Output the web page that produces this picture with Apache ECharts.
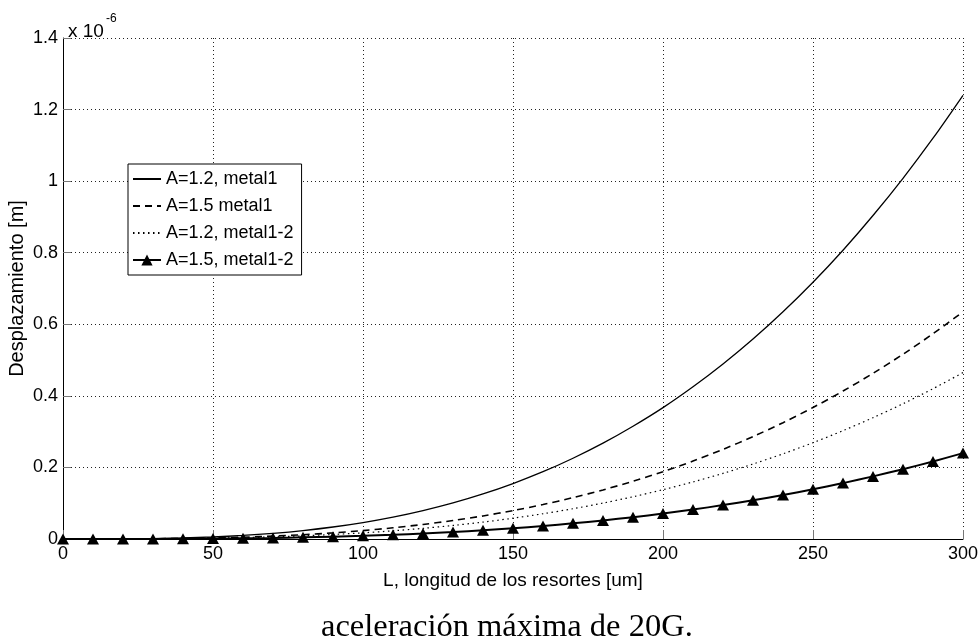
<!DOCTYPE html>
<html><head><meta charset="utf-8">
<script src="https://cdn.jsdelivr.net/npm/echarts@6/dist/echarts.min.js"></script>
<style>html,body{margin:0;padding:0;background:#fff}#c{width:980px;height:642px}</style>
</head><body><div id="c"></div>
<script>
// L, longitud de los resortes [um]
const L = [0,10,20,30,40,50,60,70,80,90,100,110,120,130,140,150,160,170,180,190,200,210,220,230,240,250,260,270,280,290,300];
// Desplazamiento in units of 1e-6 m
const a12_metal1 = [0,0.00005,0.0004,0.0012,0.0029,0.0057,0.0099,0.0158,0.0235,0.0335,0.0459,0.0611,0.0794,0.1009,0.126,0.155,0.188,0.2257,0.2678,0.315,0.367,0.4253,0.489,0.5587,0.635,0.7176,0.807,0.904,1.008,1.12,1.24];
const a15_metal1 = [0,0.00002,0.0002,0.0006,0.0015,0.0029,0.0051,0.0081,0.012,0.0171,0.0235,0.0313,0.0406,0.0517,0.0645,0.0794,0.0963,0.1156,0.1372,0.1613,0.1881,0.2178,0.2504,0.2861,0.3251,0.3675,0.4134,0.4629,0.5163,0.5736,0.635];
const a12_metal12 = [0,0.00002,0.00014,0.0005,0.0011,0.0022,0.0037,0.0059,0.0088,0.0126,0.0172,0.0229,0.0298,0.0379,0.0472,0.0581,0.0705,0.0846,0.1004,0.1181,0.1378,0.1595,0.1834,0.2095,0.2381,0.2691,0.3027,0.339,0.378,0.42,0.465];
const a15_metal12 = [0,0.00001,0.00007,0.00024,0.0006,0.0011,0.0019,0.003,0.0046,0.0065,0.0089,0.0118,0.0154,0.0195,0.0244,0.03,0.0364,0.0437,0.0518,0.061,0.0711,0.0823,0.0947,0.1081,0.1229,0.1389,0.1562,0.175,0.1951,0.2168,0.24];
const seriesNames = ['A=1.2, metal1','A=1.5 metal1','A=1.2, metal1-2','A=1.5, metal1-2'];
const xTicks = [0,50,100,150,200,250,300];
const yTicks = [0,0.2,0.4,0.6,0.8,1,1.2,1.4];

const FONT = 'Liberation Sans';
const pairs = arr => L.map((x,i)=>[x, arr[i]]);
const gridDots = {type:[1,3], color:'#222', width:1};
const chart = echarts.init(document.getElementById('c'));
chart.setOption({
  backgroundColor:'#fff',
  animation:false,
  title:[
    {text:'x 10', left:63, top:17, textStyle:{fontSize:19, fontWeight:'normal', fontFamily:FONT, color:'#000'}},
    {text:'-6', left:101, top:8, textStyle:{fontSize:12, fontWeight:'normal', fontFamily:FONT, color:'#000'}},
    {text:'aceleración máxima de 20G.', left:316, top:606, textStyle:{fontSize:32.5, fontWeight:'normal', fontFamily:'Liberation Serif', color:'#000'}}
  ],
  grid:{left:63, right:17, top:38, bottom:103, containLabel:false, outerBoundsMode:'none'},
  legend:{
    orient:'vertical', left:128, top:164,
    backgroundColor:'#fff', borderColor:'#000', borderWidth:1,
    padding:[6,8,6,4], itemGap:9, itemWidth:28, itemHeight:14,
    textStyle:{fontSize:18, fontFamily:FONT, color:'#000', lineHeight:18},
    data:[
      {name:seriesNames[0], itemStyle:{opacity:0}},
      {name:seriesNames[1], itemStyle:{opacity:0}},
      {name:seriesNames[2], itemStyle:{opacity:0}},
      {name:seriesNames[3]}
    ]
  },
  xAxis:{
    type:'value', min:xTicks[0], max:xTicks[xTicks.length-1], interval:50,
    name:'L, longitud de los resortes [um]', nameLocation:'middle', nameGap:32, nameMoveOverlap:false,
    nameTextStyle:{fontSize:19, fontFamily:FONT, color:'#000'},
    axisLine:{lineStyle:{color:'#000', width:1}},
    axisTick:{inside:true, length:9, lineStyle:{color:'#777'}},
    axisLabel:{fontSize:18, fontFamily:FONT, color:'#000', margin:6},
    splitLine:{show:true, lineStyle:gridDots}
  },
  yAxis:{
    type:'value', min:yTicks[0], max:yTicks[yTicks.length-1], interval:0.2,
    name:'Desplazamiento [m]', nameLocation:'middle', nameGap:36, nameMoveOverlap:false,
    nameTextStyle:{fontSize:20, fontFamily:FONT, color:'#000'},
    axisLine:{show:true, lineStyle:{color:'#000', width:1}},
    axisTick:{show:true, inside:true, length:8, lineStyle:{color:'#777'}},
    axisLabel:{fontSize:18, fontFamily:FONT, color:'#000', margin:5,
      formatter:v=>String(Math.round(v*10)/10)},
    splitLine:{show:true, lineStyle:gridDots}
  },
  series:[
    {name:seriesNames[0], type:'line', data:pairs(a12_metal1), symbol:'none', smooth:0.3,
     lineStyle:{color:'#000', width:1.3, type:'solid'}, itemStyle:{color:'#000'}},
    {name:seriesNames[1], type:'line', data:pairs(a15_metal1), symbol:'none', smooth:0.3,
     lineStyle:{color:'#000', width:1.6, type:[7,5]}, itemStyle:{color:'#000'}},
    {name:seriesNames[2], type:'line', data:pairs(a12_metal12), symbol:'none', smooth:0.3,
     lineStyle:{color:'#000', width:1.2, type:[1.5,3.5]}, itemStyle:{color:'#000'}},
    {name:seriesNames[3], type:'line', data:pairs(a15_metal12), symbol:'triangle', symbolSize:[12,11], showSymbol:true, smooth:0.3,
     lineStyle:{color:'#000', width:2}, itemStyle:{color:'#000'}}
  ]
});
</script></body></html>
